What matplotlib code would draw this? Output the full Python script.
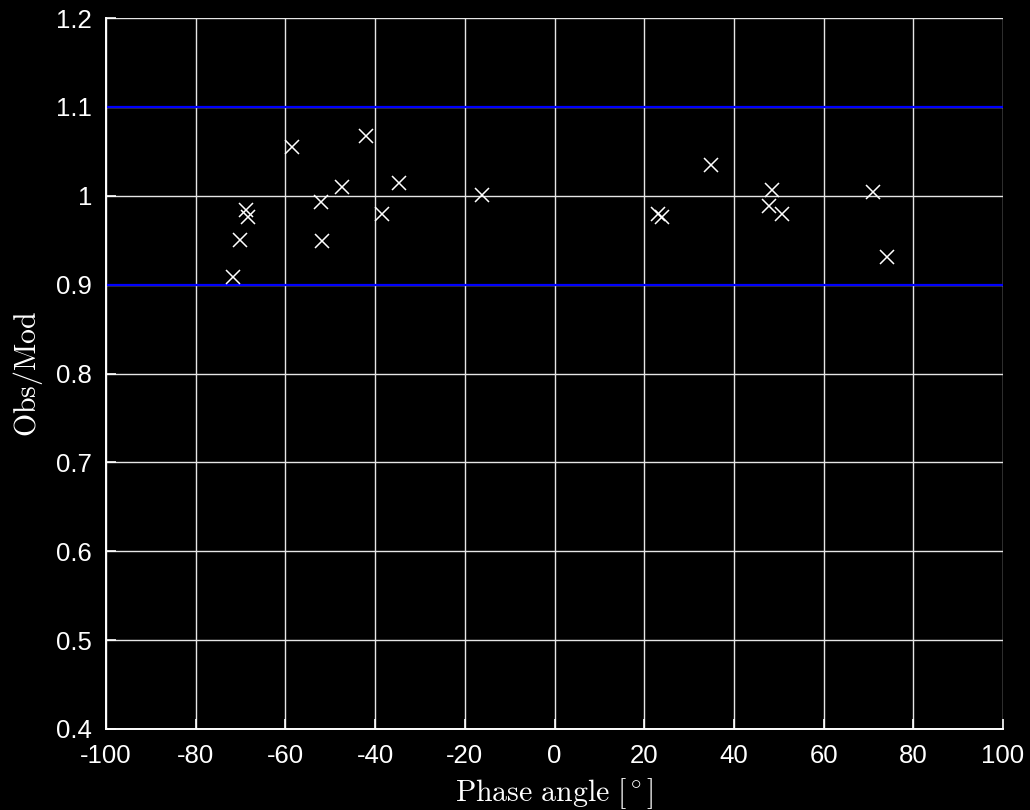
import matplotlib
matplotlib.use("Agg")
import matplotlib.pyplot as plt

# phase angle [deg] and observed/modelled ratio
phase = [-58.6, -42.1, -47.3, -34.7, -16.1, -52.1, -68.7, -68.3, -38.5, -70.2,
         -51.9, -71.6, 35.0, 23.1, 23.9, 48.4, 47.8, 50.8, 71.1, 74.1]
ratio = [1.055, 1.067, 1.010, 1.014, 1.001, 0.993, 0.984, 0.976, 0.979, 0.950,
         0.949, 0.909, 1.035, 0.979, 0.976, 1.006, 0.988, 0.979, 1.004, 0.931]
limits = [0.9, 1.1]

plt.rcParams['mathtext.fontset'] = 'cm'
plt.rcParams['axes.unicode_minus'] = False
plt.rcParams['font.family'] = ['Liberation Sans', 'DejaVu Sans']

fig = plt.figure(figsize=(10.3, 8.1), dpi=100, facecolor='black')
ax = fig.add_axes([106/1030, 81/810, 897/1030, 711/810])
ax.set_facecolor('black')

ax.grid(True, color='#e6e6e6', linewidth=1.0)
ax.set_axisbelow(True)
for lim in limits:
    ax.axhline(lim, color='#0000ff', linewidth=1.6)
ax.plot(phase, ratio, 'x', color='white', markersize=9.5, markeredgewidth=1.1)

ax.set_xlim(-100, 100)
ax.set_ylim(0.4, 1.2)
ax.set_xticks(range(-100, 101, 20))
ax.set_yticks([0.4, 0.5, 0.6, 0.7, 0.8, 0.9, 1.0, 1.1, 1.2])
ax.set_yticklabels(['0.4', '0.5', '0.6', '0.7', '0.8', '0.9', '1', '1.1', '1.2'])
ax.tick_params(colors='white', labelsize=18.5, direction='in', length=7, width=1.2)
ax.tick_params(axis='x', pad=11)
ax.tick_params(axis='y', pad=10)

for side in ['left', 'bottom']:
    ax.spines[side].set_color('white')
    ax.spines[side].set_linewidth(1.4)
for side in ['top', 'right']:
    ax.spines[side].set_visible(False)

ax.set_xlabel(r'$\mathrm{Phase\ angle\ [^\circ]}$', color='white', fontsize=21.5, labelpad=6)
ax.set_ylabel(r'$\mathrm{Obs/Mod}$', color='white', fontsize=21.5, labelpad=8)

fig.savefig('out.png', dpi=100, facecolor='black')
